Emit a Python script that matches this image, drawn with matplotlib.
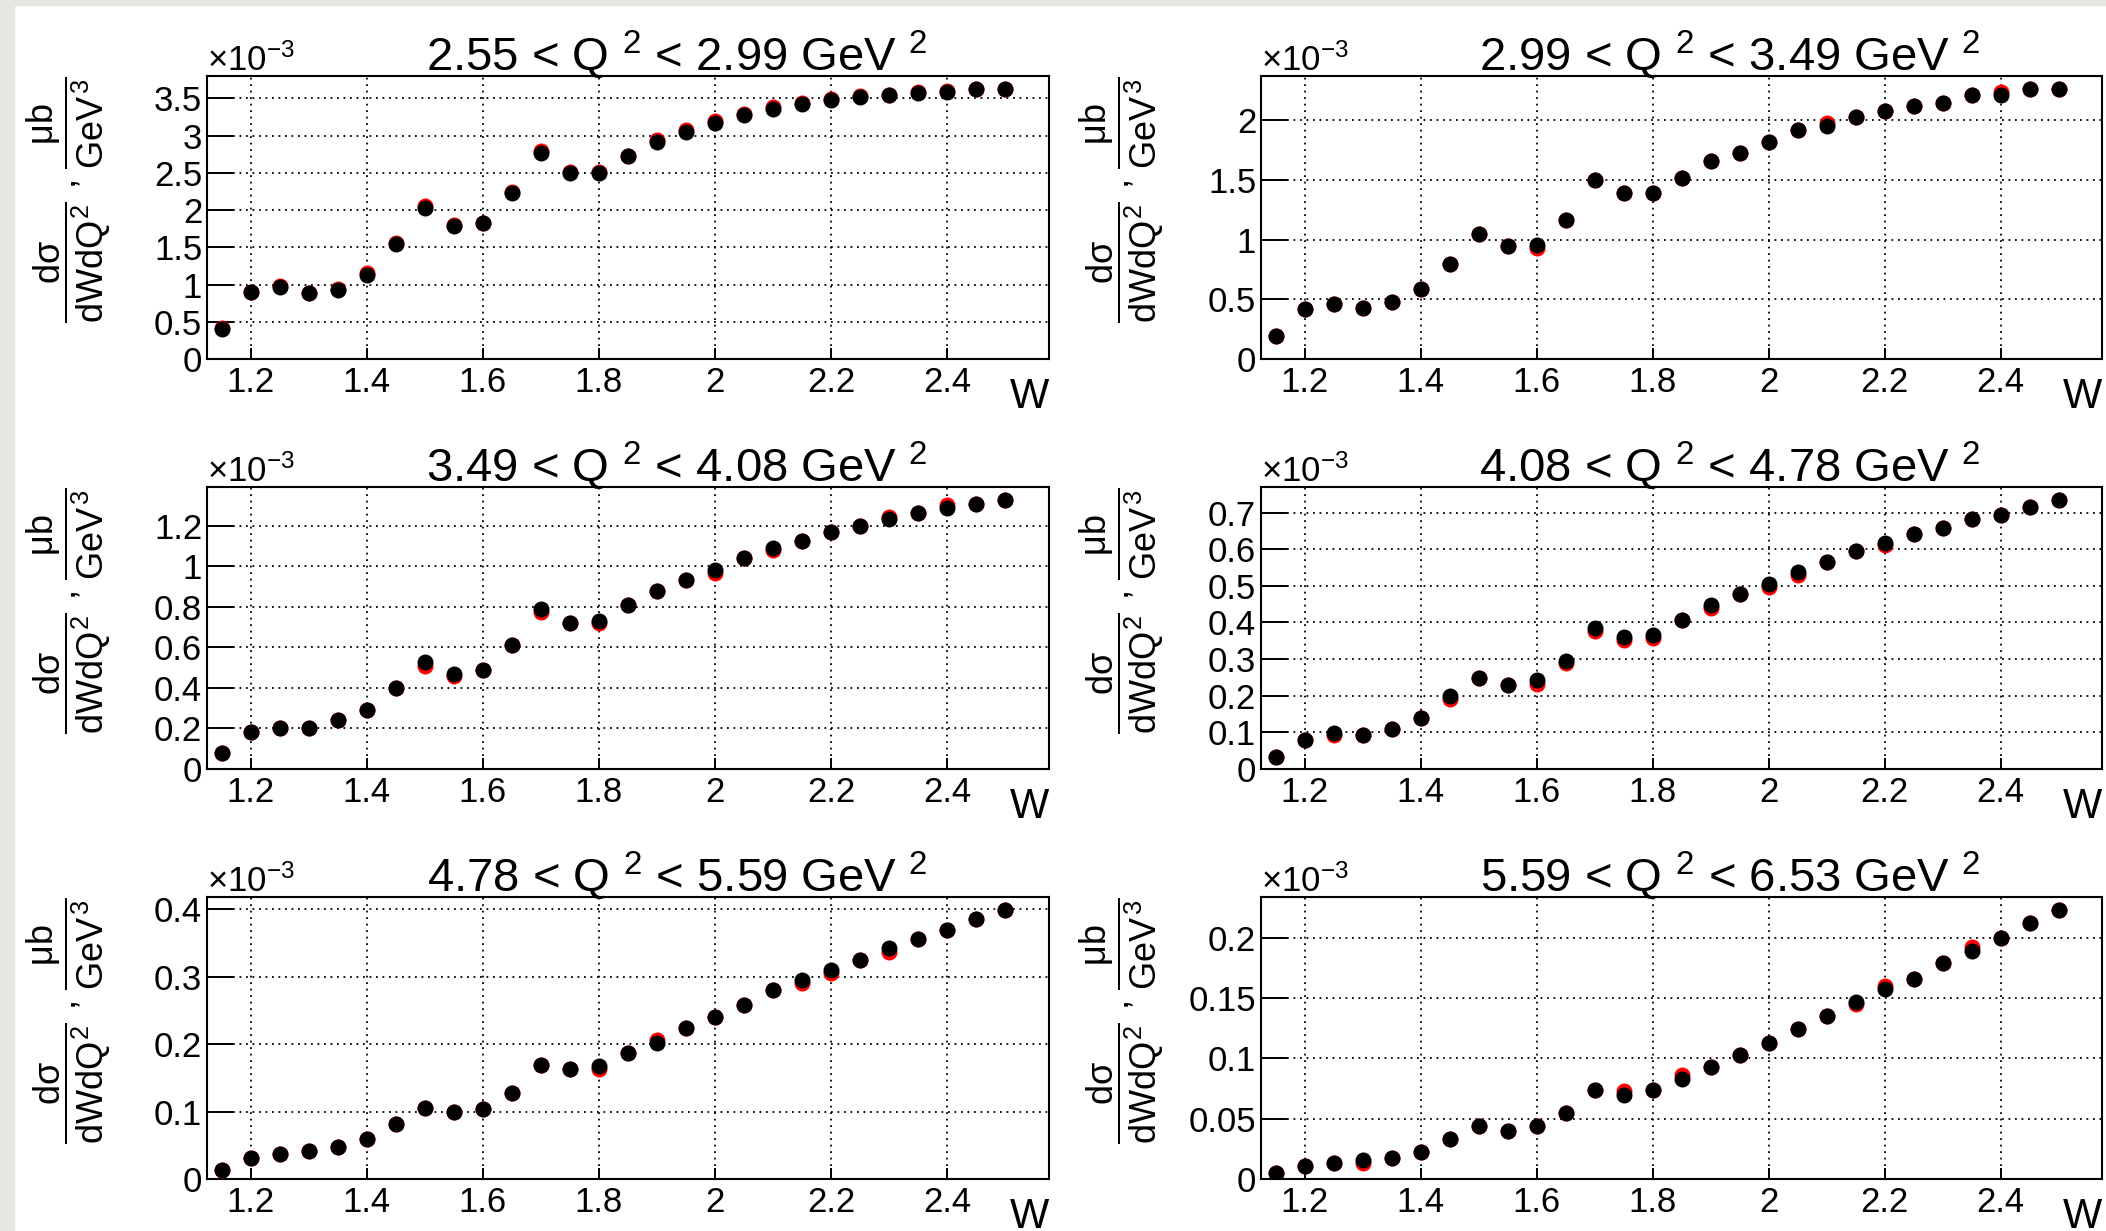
import matplotlib
matplotlib.use('Agg')
import matplotlib.pyplot as plt
from matplotlib.ticker import MultipleLocator, FormatStrFormatter
from matplotlib.patches import Rectangle

plt.rcParams['font.family'] = ['Liberation Sans', 'DejaVu Sans']
plt.rcParams['mathtext.fontset'] = 'custom'
plt.rcParams['mathtext.rm'] = 'Liberation Sans'
plt.rcParams['mathtext.it'] = 'Liberation Sans'
plt.rcParams['mathtext.sf'] = 'Liberation Sans'
plt.rcParams['mathtext.bf'] = 'Liberation Sans:bold'

# --- Data (cross sections in units of 1e-3 mub/GeV^3) ---
w_bins = [1.15, 1.20, 1.25, 1.30, 1.35, 1.40, 1.45, 1.50, 1.55, 1.60,
          1.65, 1.70, 1.75, 1.80, 1.85, 1.90, 1.95, 2.00, 2.05, 2.10,
          2.15, 2.20, 2.25, 2.30, 2.35, 2.40, 2.45, 2.50]

q2_labels = ['2.55 < Q $^{2}$ < 2.99 GeV $^{2}$',
             '2.99 < Q $^{2}$ < 3.49 GeV $^{2}$',
             '3.49 < Q $^{2}$ < 4.08 GeV $^{2}$',
             '4.08 < Q $^{2}$ < 4.78 GeV $^{2}$',
             '4.78 < Q $^{2}$ < 5.59 GeV $^{2}$',
             '5.59 < Q $^{2}$ < 6.53 GeV $^{2}$']

# black points
xs_q2_1 = [0.40, 0.90, 0.97, 0.88, 0.93, 1.13, 1.54, 2.03, 1.79, 1.83,
           2.23, 2.77, 2.50, 2.50, 2.72, 2.92, 3.05, 3.17, 3.28, 3.36,
           3.42, 3.48, 3.52, 3.54, 3.57, 3.59, 3.62, 3.62]
xs_q2_2 = [0.195, 0.42, 0.46, 0.43, 0.48, 0.585, 0.80, 1.045, 0.95, 0.955,
           1.165, 1.50, 1.39, 1.39, 1.52, 1.66, 1.73, 1.82, 1.92, 1.95,
           2.03, 2.08, 2.12, 2.15, 2.21, 2.21, 2.26, 2.26]
xs_q2_3 = [0.08, 0.185, 0.20, 0.20, 0.24, 0.29, 0.40, 0.527, 0.47, 0.486,
           0.61, 0.79, 0.72, 0.73, 0.81, 0.88, 0.93, 0.98, 1.04, 1.09,
           1.125, 1.17, 1.20, 1.235, 1.265, 1.29, 1.305, 1.325]
xs_q2_4 = [0.034, 0.078, 0.098, 0.093, 0.108, 0.138, 0.199, 0.247, 0.229, 0.242,
           0.296, 0.385, 0.360, 0.366, 0.407, 0.448, 0.477, 0.504, 0.538, 0.565,
           0.594, 0.617, 0.641, 0.658, 0.683, 0.694, 0.716, 0.733]
xs_q2_5 = [0.013, 0.031, 0.0375, 0.041, 0.047, 0.059, 0.081, 0.105, 0.099, 0.103,
           0.128, 0.169, 0.163, 0.168, 0.186, 0.202, 0.224, 0.240, 0.258, 0.280,
           0.295, 0.310, 0.325, 0.342, 0.356, 0.369, 0.385, 0.398]
xs_q2_6 = [0.005, 0.0105, 0.0133, 0.0155, 0.0175, 0.022, 0.033, 0.044, 0.040, 0.044,
           0.055, 0.074, 0.070, 0.074, 0.0825, 0.093, 0.103, 0.1125, 0.1245, 0.135,
           0.147, 0.157, 0.166, 0.179, 0.189, 0.1995, 0.212, 0.2225]

# red points (mostly hidden behind the black ones)
xs_red_1 = [0.41, 0.90, 0.98, 0.88, 0.94, 1.15, 1.56, 2.06, 1.80, 1.83,
            2.24, 2.79, 2.51, 2.51, 2.73, 2.94, 3.07, 3.19, 3.29, 3.38,
            3.44, 3.49, 3.53, 3.55, 3.58, 3.60, 3.63, 3.63]
xs_red_2 = [0.195, 0.42, 0.46, 0.43, 0.48, 0.585, 0.80, 1.045, 0.95, 0.93,
            1.165, 1.50, 1.39, 1.39, 1.52, 1.66, 1.73, 1.82, 1.92, 1.98,
            2.03, 2.08, 2.12, 2.15, 2.21, 2.24, 2.26, 2.26]
xs_red_3 = [0.08, 0.185, 0.20, 0.20, 0.24, 0.29, 0.40, 0.51, 0.46, 0.486,
            0.61, 0.775, 0.72, 0.72, 0.81, 0.88, 0.93, 0.965, 1.04, 1.08,
            1.125, 1.17, 1.20, 1.245, 1.265, 1.30, 1.305, 1.325]
xs_red_4 = [0.034, 0.078, 0.092, 0.093, 0.108, 0.138, 0.190, 0.247, 0.229, 0.232,
            0.290, 0.376, 0.352, 0.358, 0.407, 0.440, 0.477, 0.496, 0.530, 0.565,
            0.594, 0.610, 0.641, 0.658, 0.683, 0.694, 0.716, 0.733]
xs_red_5 = [0.013, 0.031, 0.0375, 0.041, 0.047, 0.059, 0.081, 0.105, 0.099, 0.103,
            0.128, 0.169, 0.163, 0.163, 0.186, 0.206, 0.224, 0.240, 0.258, 0.280,
            0.290, 0.305, 0.325, 0.337, 0.356, 0.369, 0.385, 0.398]
xs_red_6 = [0.005, 0.0105, 0.0133, 0.0135, 0.0175, 0.022, 0.033, 0.044, 0.040, 0.044,
            0.055, 0.074, 0.073, 0.074, 0.086, 0.093, 0.103, 0.1125, 0.1245, 0.135,
            0.145, 0.160, 0.166, 0.179, 0.192, 0.1995, 0.212, 0.2225]

black_sets = [xs_q2_1, xs_q2_2, xs_q2_3, xs_q2_4, xs_q2_5, xs_q2_6]
red_sets = [xs_red_1, xs_red_2, xs_red_3, xs_red_4, xs_red_5, xs_red_6]
y_steps = [0.5, 0.5, 0.2, 0.1, 0.1, 0.05]
x_ticks = [1.2, 1.4, 1.6, 1.8, 2.0, 2.2, 2.4]

# --- Layout (frame positions in pixels) ---
W, H = 2106, 1231
col_x = [(207, 1049), (1261, 2102)]
row_y = [(76, 359), (487, 769), (897, 1179)]
col_off = [0, 1053]

fig = plt.figure(figsize=(W / 100, H / 100), dpi=100)
fig.patch.set_facecolor('white')
# grey paper border on the left and top
fig.patches.append(Rectangle((0, 0), 14 / W, 1, transform=fig.transFigure,
                             color='#e7e5e2', zorder=0))
fig.patches.append(Rectangle((0, 1 - 5 / H), 1, 5 / H, transform=fig.transFigure,
                             color='#e7e5e2', zorder=0))

ylab = r'$\dfrac{d\sigma}{dWdQ^{2}}$ , $\dfrac{\mu b}{GeV^{3}}$'

for i in range(6):
    r, c = divmod(i, 2)
    x0, x1 = col_x[c]
    y0, y1 = row_y[r]
    ax = fig.add_axes([x0 / W, 1 - y1 / H, (x1 - x0) / W, (y1 - y0) / H])

    ax.plot(w_bins, red_sets[i], 'o', color='red', ms=11.5, mew=0, zorder=3)
    ax.plot(w_bins, black_sets[i], 'o', color='black', ms=11.5, mew=0, zorder=4)

    ax.set_xlim(1.125, 2.575)
    ax.set_ylim(0, 1.05 * max(black_sets[i]))
    ax.set_xticks(x_ticks)
    ax.yaxis.set_major_locator(MultipleLocator(y_steps[i]))
    ax.xaxis.set_major_formatter(FormatStrFormatter('%g'))
    ax.yaxis.set_major_formatter(FormatStrFormatter('%g'))
    ax.minorticks_off()

    ax.tick_params(axis='y', direction='in', length=18.5, width=1.4,
                   labelsize=25, pad=3.5)
    ax.tick_params(axis='x', direction='in', length=8, width=1.4,
                   labelsize=25, pad=5)
    for s in ax.spines.values():
        s.set_linewidth(1.5)
    ax.grid(True, color='black', linestyle=(0, (1, 2.6)), linewidth=1.3)
    ax.set_axisbelow(True)

    # x axis title at right end
    ax.text(1.0, -0.065, 'W', transform=ax.transAxes, ha='right', va='top',
            fontsize=30)

    # multiplier
    fig.text(x0 / W, 1 - (y0 - 5) / H, '×10$^{-3}$', ha='left',
             va='baseline', fontsize=25)

    # title
    fig.text((col_off[c] + 677) / W, 1 - (y0 - 6) / H, q2_labels[i],
             ha='center', va='baseline', fontsize=34)

    # y axis title
    fig.text((col_off[c] + 69) / W, 1 - (y0 + 1) / H, ylab, rotation=90,
             ha='center', va='top', fontsize=26)

fig.savefig('out.png', dpi=100)
